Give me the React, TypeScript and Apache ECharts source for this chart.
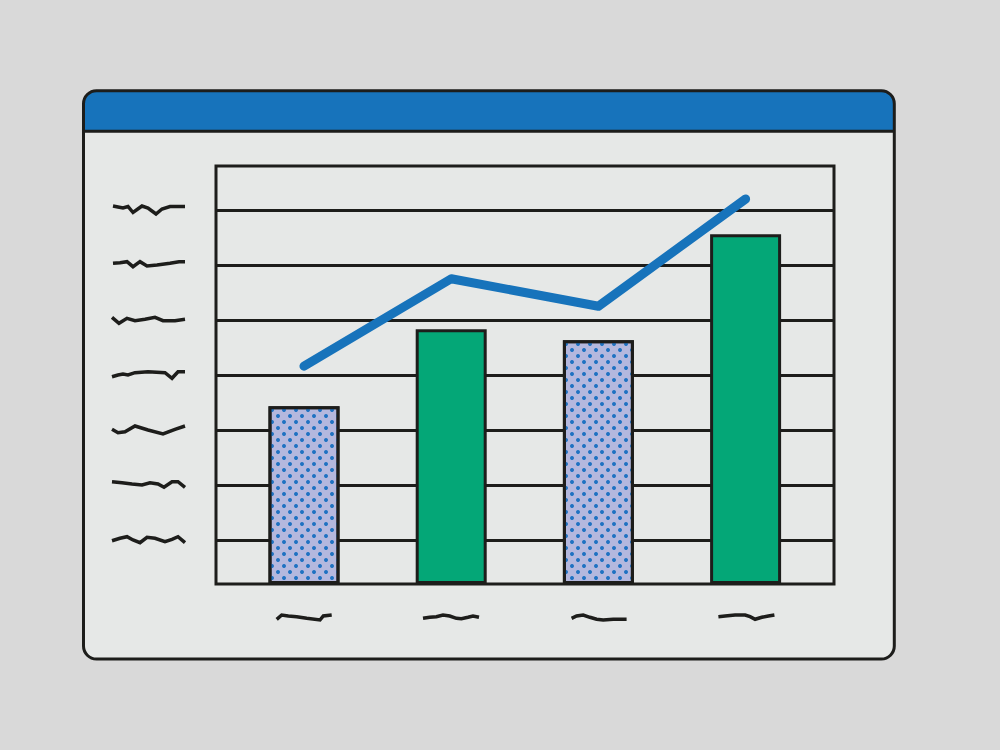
import React, { useEffect, useRef } from "react";
import * as echarts from "echarts";

// ---- data ----
const categories = ["Item 1", "Item 2", "Item 3", "Item 4"];
const barValues = [3.23, 4.63, 4.43, 6.36];
const barPatterned = [true, false, true, false];
const lineValues = [3.96, 5.55, 5.05, 7.0];
// horizontal gridline values (same units as the data axis)
const gridLineValues = [6.8, 5.8, 4.8, 3.8, 2.8, 1.8, 0.8];

// placeholder "handwritten" label squiggles (shape offsets, dx/dy)
const yLabelShapes: number[][][] = [
  [[1, -4], [6, -3], [11, -2], [16, -3.5], [21, 2.5], [30, -4], [36, -2], [44, 4], [50, -1], [58, -3.5], [73, -3.5]],
  [[1, -1.7], [8, -2.3], [15, -3.3], [21, 1.7], [28, -3.3], [35, 1], [45, 0], [58, -1.7], [67, -3.3], [73, -3.3]],
  [[0, -2.7], [7, 3.3], [15, -1.7], [23, 0.7], [33, -0.7], [43, -2.7], [51, 0.7], [63, 0.7], [73, -0.7]],
  [[0, 1.7], [6, 0], [11, -1], [16, 0], [23, -2.3], [36, -3.3], [53, -2.3], [60, 3.3], [66, -3.3], [73, -3.3]],
  [[0, -0.7], [6, 2.7], [13, 1.7], [23, -4], [36, 0], [51, 4], [63, -0.7], [73, -4]],
  [[0, -3.3], [10, -2.3], [20, -1], [30, 0], [38, -2.3], [46, -1], [52, 2.3], [60, -3.3], [66, -3.3], [73, 2.3]],
  [[0, 0.7], [8, -1.7], [15, -3.3], [21, 0], [28, 2.7], [35, -2.7], [43, -1.7], [53, 1.7], [60, -0.7], [66, -3.3], [73, 2.7]],
];
const xLabelShapes: number[][][] = [
  [[-27.3, 2.3], [-22.3, -2], [-15.7, -1], [-7.3, -0.3], [2.7, 1.3], [16, 3], [19.3, -1], [27.7, -2]],
  [[-28.2, 1.3], [-21.5, 0.3], [-14.8, -0.3], [-8.2, -2], [-1.5, -1], [5.2, 1.3], [10.2, 1.7], [16.8, 0.3], [21.8, -1], [27.8, 0.3]],
  [[-26.8, 1.3], [-21.8, -1], [-15.2, -2], [-8.5, 0.3], [-1.8, 2.3], [4.8, 3], [14.8, 2.3], [28.2, 2.3]],
  [[-27.2, -0.3], [-20.5, -1], [-10.5, -2], [-0.5, -2], [4.5, -0.3], [9.5, 2.3], [16.2, 0.3], [22.8, -1], [28.8, -2]],
];

const DARK = "#1d1d1b";
const BLUE = "#1773bb";
const GREEN = "#04a777";
const LAVENDER = "#b4b8de";
const BODY = "#e6e8e7";
const PAGE = "#d9d9d9";

export default function App() {
  const ref = useRef<HTMLDivElement>(null);

  useEffect(() => {
    if (!ref.current) return;
    const chart = echarts.init(ref.current, null, { renderer: "svg" });

    const dotDecal = {
      symbol: "circle",
      symbolSize: 1,
      color: "#1f72c2",
      dashArrayX: [[4, 8], [0, 6, 4, 2]],
      dashArrayY: [4, 2],
    };

    chart.setOption({
      animation: false,
      backgroundColor: PAGE,
      grid: [
        { left: 216, top: 166, width: 618, height: 418, show: true, borderColor: DARK, borderWidth: 3, backgroundColor: "transparent", z: 1 },
        { left: 230.4, top: 166, width: 588.8, height: 418 },
      ],
      xAxis: [
        { type: "value", gridIndex: 0, min: 0, max: 1, show: false },
        { type: "category", gridIndex: 1, data: categories, show: false },
      ],
      yAxis: [
        { type: "value", gridIndex: 0, min: 0, max: 7.6, show: false, splitLine: { show: false } },
        { type: "value", gridIndex: 1, min: 0, max: 7.6, show: false, splitLine: { show: false } },
      ],
      series: [
        {
          type: "line",
          xAxisIndex: 0,
          yAxisIndex: 0,
          z: 1,
          data: [],
          silent: true,
          markLine: {
            z: 1,
            silent: true,
            symbol: ["none", "none"],
            label: { show: false },
            lineStyle: { color: DARK, width: 3, type: "solid" },
            data: gridLineValues.map((v) => ({ yAxis: v })),
          },
        },
        {
          type: "bar",
          xAxisIndex: 1,
          yAxisIndex: 1,
          barWidth: 71,
          z: 3,
          data: barValues.map((v, i) => ({
            value: v,
            itemStyle: barPatterned[i]
              ? { color: LAVENDER, borderColor: DARK, borderWidth: 3, decal: dotDecal }
              : { color: GREEN, borderColor: DARK, borderWidth: 3 },
          })),
        },
        {
          type: "line",
          xAxisIndex: 1,
          yAxisIndex: 1,
          z: 4,
          symbol: "none",
          data: lineValues,
          lineStyle: { color: BLUE, width: 9, cap: "round", join: "round" },
        },
      ],
    });

    const elements: any[] = [
      { type: "rect", z: -10, shape: { x: 83.5, y: 90.7, width: 810.8, height: 568.3, r: 13 }, style: { fill: BODY } },
      { type: "rect", z: -9, shape: { x: 83.5, y: 90.7, width: 810.8, height: 40.6, r: [13, 13, 0, 0] }, style: { fill: BLUE } },
      { type: "line", z: -8, shape: { x1: 83.5, y1: 131.3, x2: 894.3, y2: 131.3 }, style: { stroke: DARK, lineWidth: 3 } },
      { type: "rect", z: -7, shape: { x: 83.5, y: 90.7, width: 810.8, height: 568.3, r: 13 }, style: { fill: "none", stroke: DARK, lineWidth: 3 } },
    ];

    gridLineValues.forEach((v, i) => {
      const y = chart.convertToPixel({ yAxisIndex: 0 }, v) as number;
      const pts = yLabelShapes[i].map(([dx, dy]) => [112 + dx, y + dy]);
      elements.push({ type: "polyline", z: 10, shape: { points: pts }, style: { fill: "none", stroke: DARK, lineWidth: 3.5, lineJoin: "miter" } });
    });
    const bottomY = chart.convertToPixel({ yAxisIndex: 1 }, 0) as number;
    categories.forEach((c, i) => {
      const x = chart.convertToPixel({ xAxisIndex: 1 }, c) as number;
      const pts = xLabelShapes[i].map(([dx, dy]) => [x + dx, bottomY + 33 + dy]);
      elements.push({ type: "polyline", z: 10, shape: { points: pts }, style: { fill: "none", stroke: DARK, lineWidth: 3.5, lineJoin: "miter" } });
    });

    chart.setOption({ graphic: { elements } });

    return () => chart.dispose();
  }, []);

  return (
    <div
      ref={ref}
      style={{ position: "absolute", left: 0, top: 0, width: 1000, height: 750 }}
    />
  );
}
